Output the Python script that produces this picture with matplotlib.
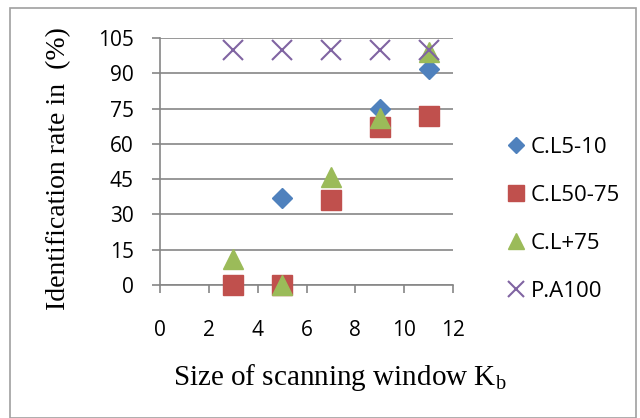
import matplotlib
matplotlib.use("Agg")
from matplotlib import pyplot
from matplotlib.patches import Rectangle

# data
x_cl5 = [5, 9, 11]
y_cl5 = [37, 75, 92]
x_cl50 = [3, 5, 7, 9, 11]
y_cl50 = [0, 0, 36, 67, 72]
x_cl75 = [3, 5, 7, 9, 11]
y_cl75 = [11, 0, 46, 71, 99]
x_pa = [3, 5, 7, 9, 11]
y_pa = [100, 100, 100, 100, 100]

x_ticks = [0, 2, 4, 6, 8, 10, 12]
y_ticks = [0, 15, 30, 45, 60, 75, 90, 105]

tick_font = "Open Sans"
label_font = "Liberation Serif"

fig = pyplot.figure(figsize=(6.4, 4.18), dpi=100)
fig.patches.append(Rectangle((10 / 640, 0), 626 / 640, 1 - 8 / 418, transform=fig.transFigure,
                             fill=False, edgecolor="#a0a0a0", linewidth=1.2))
ax = fig.add_axes([160 / 640, 1 - 285 / 418, 293 / 640, 247 / 418])

ax.plot(x_cl5, y_cl5, "D", color="#4F81BD", ms=10, label="C.L5-10", zorder=3, clip_on=False)
ax.plot(x_cl50, y_cl50, "s", color="#C0504D", ms=14, label="C.L50-75", zorder=3, clip_on=False)
ax.plot(x_cl75, y_cl75, "^", color="#9BBB59", ms=14, label="C.L+75", zorder=4, clip_on=False)
ax.plot(x_pa, y_pa, "x", color="#8064A2", ms=14, mew=1.5, label="P.A100", zorder=4, clip_on=False)

ax.set_xlim(0, 12)
ax.set_ylim(0, 105)
ax.set_xticks(x_ticks)
ax.set_yticks(y_ticks)
ax.grid(axis="y", color="#868686", linewidth=1.2)
ax.set_axisbelow(True)
for s in ["top", "right"]:
    ax.spines[s].set_visible(False)
for s in ["left", "bottom"]:
    ax.spines[s].set_color("#868686")
    ax.spines[s].set_linewidth(1.2)
ax.tick_params(colors="#868686", length=6, width=1.2, labelcolor="black", labelsize=15)
ax.tick_params(axis="y", pad=13)
ax.tick_params(axis="x", pad=19)
for lab in ax.get_xticklabels() + ax.get_yticklabels():
    lab.set_family(tick_font)

ax.set_ylabel("Identification rate in  (%)", fontsize=20, family=label_font)
ax.yaxis.set_label_coords(-0.305, 0.47)
ax.set_xlabel("Size of scanning window K$_\\mathregular{b}$", fontsize=21, family=label_font)
ax.xaxis.set_label_coords(0.614, -0.31)

ax.legend(loc="center left", bbox_to_anchor=(1.14, 0.265), frameon=False, markerscale=0.85,
          prop={"family": tick_font, "size": 16}, labelspacing=1.22, handletextpad=0.05,
          handlelength=1.2, borderaxespad=0)

fig.savefig("out.png", dpi=100)
